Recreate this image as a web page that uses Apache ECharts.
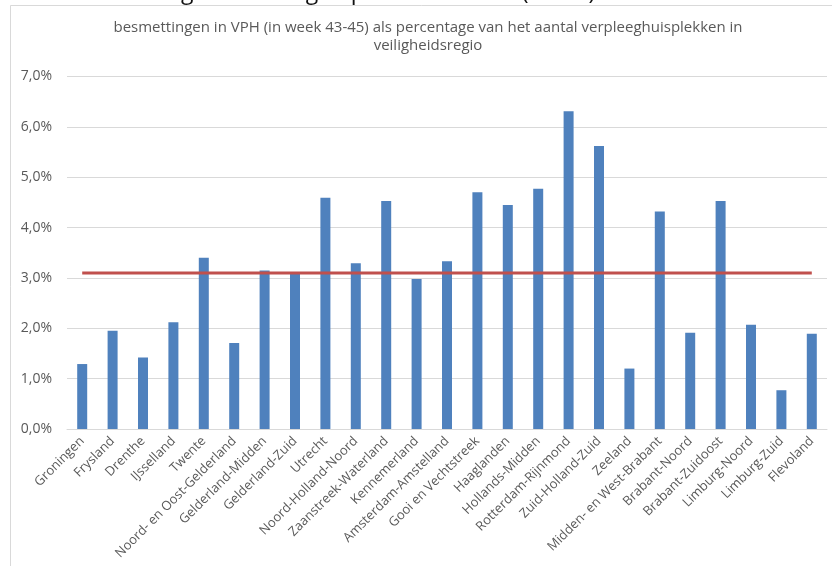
<!DOCTYPE html>
<html>
<head>
<meta charset="utf-8">
<script src="https://cdn.jsdelivr.net/npm/echarts@6/dist/echarts.min.js"></script>
<style>
html,body{margin:0;padding:0;background:#fff;}
#c{width:832px;height:566px;}
</style>
</head>
<body>
<div id="c"></div>
<script>
const pageHeading = "aantal besmettingen in de afgelopen drie weken (43-45).";
const chartTitle = "besmettingen in VPH (in week 43-45) als percentage van het aantal verpleeghuisplekken in\nveiligheidsregio";
const regions = ["Groningen","Frysland","Drenthe","IJsselland","Twente","Noord- en Oost-Gelderland","Gelderland-Midden","Gelderland-Zuid","Utrecht","Noord-Holland-Noord","Zaanstreek-Waterland","Kennemerland","Amsterdam-Amstelland","Gooi en Vechtstreek","Haaglanden","Hollands-Midden","Rotterdam-Rijnmond","Zuid-Holland-Zuid","Zeeland","Midden- en West-Brabant","Brabant-Noord","Brabant-Zuidoost","Limburg-Noord","Limburg-Zuid","Flevoland"];
const percentages = [1.29,1.95,1.42,2.12,3.40,1.71,3.15,3.08,4.59,3.29,4.53,2.98,3.33,4.70,4.45,4.77,6.31,5.62,1.20,4.32,1.91,4.53,2.07,0.77,1.89];
const averageLine = [3.1,3.1,3.1,3.1,3.1,3.1,3.1,3.1,3.1,3.1,3.1,3.1,3.1,3.1,3.1,3.1,3.1,3.1,3.1,3.1,3.1,3.1,3.1,3.1,3.1];

const chart = echarts.init(document.getElementById('c'), null, {renderer:'canvas'});
chart.setOption({
  animation:false,
  backgroundColor:'#fff',
  graphic:[
    {type:'rect', shape:{x:10.5,y:5.5,width:900,height:700}, style:{fill:'none',stroke:'#d9d9d9',lineWidth:1}, z:-1},
    {type:'text', left:0, top:-19, style:{text:pageHeading, font:'23px "Open Sans"', fill:'#111'}},
    {type:'text', x:428, y:19, style:{text:chartTitle, font:'15px "Open Sans"', fill:'#595959', align:'center', verticalAlign:'top', lineHeight:18}}
  ],
  grid:{left:67, right:5, top:76.5, bottom:137, containLabel:false},
  xAxis:{
    type:'category', data:regions,
    axisLine:{lineStyle:{color:'#d9d9d9'}},
    axisTick:{show:false},
    axisLabel:{rotate:45, interval:0, color:'#595959', fontFamily:'Open Sans', fontSize:13, margin:10}
  },
  yAxis:{
    type:'value', min:0, max:7, interval:1,
    axisLine:{show:false}, axisTick:{show:false},
    splitLine:{lineStyle:{color:'#d9d9d9', width:1}},
    axisLabel:{color:'#595959', fontFamily:'Open Sans', fontSize:14, margin:15,
      formatter:v=>v.toFixed(1).replace('.',',')+'%'}
  },
  series:[
    {type:'bar', data:percentages, barWidth:10, itemStyle:{color:'#4f81bd'}},
    {type:'line', data:averageLine, symbol:'none', lineStyle:{color:'#c0504d', width:3}, z:5}
  ]
});
</script>
</body>
</html>
